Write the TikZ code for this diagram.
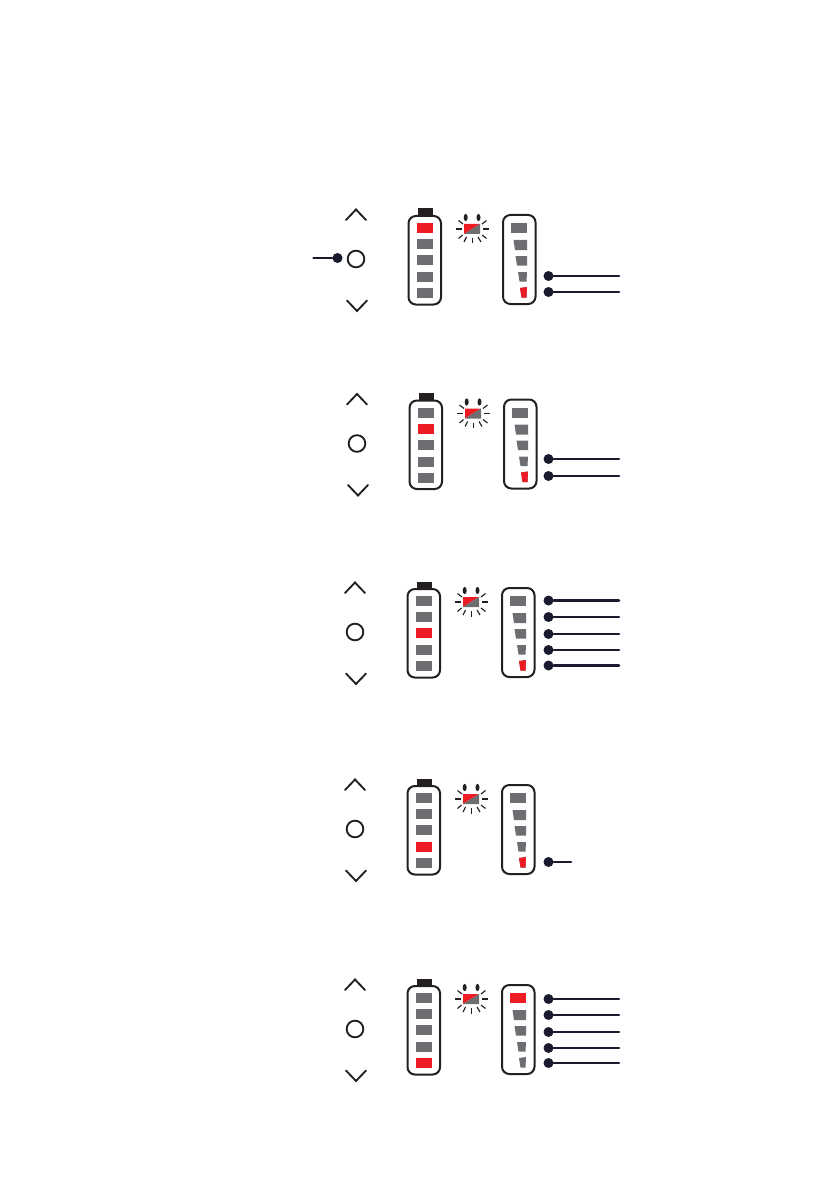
\documentclass[tikz,border=0pt]{standalone}
\definecolor{ledred}{HTML}{ED1C24}
\definecolor{ledgray}{HTML}{6D6E71}
\definecolor{caseblack}{HTML}{231F20}
\definecolor{leadnavy}{HTML}{1A1A2E}
\tikzset{
  chevron/.style={draw=caseblack,line width=1.4pt,line cap=round,line join=miter},
  casing/.style={draw=caseblack,line width=1.5pt,rounded corners=5.5pt},
  button/.style={circle,draw=caseblack,line width=1.4pt,minimum size=12.5pt,inner sep=0pt},
  leaddot/.style={circle,fill=leadnavy,minimum size=7.5pt,inner sep=0pt},
  lead/.style={draw=leadnavy,line width=1.9pt,line cap=round},
  ray/.style={draw=caseblack,line width=0.85pt}
}
% #1 = red bar in the battery (y), #2 = which meter segment is red
\newcommand{\panel}[2]{
  \draw[chevron] (346,220)--(356,209.5)--(366,220);
  \node[button] (btn) at (356,259) {};
  \draw[chevron] (347,300.5)--(357,311)--(367,300.5);
  % battery
  \fill[caseblack] (417.5,208.5) rectangle (432.5,217);
  \draw[casing,fill=white] (408.5,216) rectangle (441,304.5);
  \foreach \y in {223,239,255,272,288}
    \fill[ledgray] (417,\y) rectangle (433,\y+10);
  \fill[ledred] (417,#1) rectangle (433,#1+10);
  % flashing symbol
  \fill[ledred] (464,234)--(464,224)--(480,224)--cycle;
  \fill[ledgray] (464,234)--(480,224)--(480,234)--cycle;
  \fill[caseblack] (465.7,217.5) ellipse (1.5pt and 2.7pt);
  \fill[caseblack] (478.5,217.5) ellipse (1.5pt and 2.7pt);
  \draw[ray] (456,229)--(462,229);
  \draw[ray] (482.5,229)--(489,229);
  \draw[ray] (472.3,238)--(472.3,243.5);
  \draw[ray] (458.5,220.5)--(463,224);
  \draw[ray] (486.5,220.5)--(482,224);
  \draw[ray] (458.5,238.5)--(462.5,235);
  \draw[ray] (486.5,238.5)--(482,235);
  \draw[ray] (466.5,237)--(464,242);
  \draw[ray] (478,237)--(481,242);
  % level meter
  \draw[casing] (503,215) rectangle (535.5,304);
  \fill[ledgray] (511,223) rectangle (527,233);
  \fill[ledgray] (513.5,240)--(527,240)--(527,250)--(515,250)--cycle;
  \fill[ledgray] (515.5,256)--(527,256)--(527,265.5)--(517,265.5)--cycle;
  \fill[ledgray] (518,272)--(527,272)--(526.5,281.5)--(519.5,281.5)--cycle;
  \fill[ledgray] (520,288)--(527,287)--(526.5,297.5)--(521.5,297.5)--cycle;
  \ifcase#2\or
    \fill[ledred] (511,223) rectangle (527,233);\or
    \fill[ledred] (520,288)--(527,287)--(526.5,297.5)--(521.5,297.5)--cycle;\fi
}
% #1 = name, #2 = y, #3 = x of free end
\newcommand{\leadline}[3]{
  \node[leaddot] (dot#1) at (548.5,#2) {};
  \coordinate (end#1) at (#3,#2);
  \draw[lead] (dot#1)--(end#1);
}
\begin{document}
\begin{tikzpicture}[x=0.75pt,y=-0.75pt]
  \useasboundingbox (0,0) rectangle (839,1191);
  \begin{scope}
    \panel{223}{2}
    \node[leaddot] (dotpress) at (337.5,258) {};
    \coordinate (endpress) at (313.5,258);
    \draw[lead] (dotpress)--(endpress);
  \end{scope}
  \leadline{aA}{276}{619}
  \leadline{aB}{292}{619}
  \begin{scope}[shift={(1,184.5)}]
    \panel{239}{2}
  \end{scope}
  \leadline{bA}{459}{619}
  \leadline{bB}{476}{619}
  \begin{scope}[shift={(-1,373)}]
    \panel{255}{2}
  \end{scope}
  \leadline{cA}{600.5}{619}
  \leadline{cB}{617}{619}
  \leadline{cC}{634}{619}
  \leadline{cD}{650}{619}
  \leadline{cE}{665.5}{619}
  \begin{scope}[shift={(-1,570)}]
    \panel{272}{2}
  \end{scope}
  \leadline{dA}{862}{571}
  \begin{scope}[shift={(-1,770)}]
    \panel{288}{1}
  \end{scope}
  \leadline{eA}{999}{619}
  \leadline{eB}{1015}{619}
  \leadline{eC}{1032}{619}
  \leadline{eD}{1048}{619}
  \leadline{eE}{1063}{619}
\end{tikzpicture}
\end{document}
